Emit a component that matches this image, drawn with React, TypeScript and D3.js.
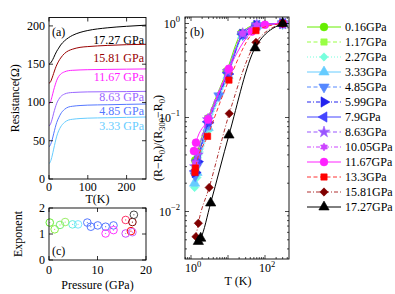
import React from 'react';
import * as d3 from 'd3';

// ---------------- DATA ----------------
// Panel (a): resistance vs temperature
const tA = [0, 4, 8, 12, 16, 20, 25, 30, 40, 50, 60, 80, 100, 150, 200, 250];
const rA1727 = [150, 151.5, 154.5, 158.5, 163, 167, 171, 175, 180.5, 184.5, 187.5, 191.5, 194, 197.5, 199.5, 201];
const rA1581 = [125, 127, 132, 138, 144, 149, 154, 158, 164, 167.5, 169.5, 172, 173, 174.5, 175.5, 176];
const rA1167 = [98, 101, 108, 116, 123, 129, 134, 137, 140, 141.5, 142, 142.5, 142.8, 143.2, 143.5, 143.8];
const rA863 = [69, 72, 78, 86, 93, 99, 104, 107.5, 111, 112.5, 113, 113.5, 113.8, 114, 114.2, 114.5];
const rA485 = [42, 45, 51, 59, 67, 74, 80, 85, 91, 94, 95, 96, 96.5, 97, 97.5, 98];
const rA333 = [20, 23, 30, 39, 48, 56, 63, 68, 74, 77, 78, 79, 79.5, 80, 80.5, 81];
const aSeries = [rA1727, rA1581, rA1167, rA863, rA485, rA333];
const aLabels = ['17.27 GPa', '15.81 GPa', '11.67 GPa', '8.63 GPa', '4.85 GPa', '3.33 GPa'];
const aColors = ['#000000', '#990000', '#FF22FF', '#9966FF', '#5577FF', '#66CCFF'];
const aLabelR = [176.5, 153.5, 127.5, 101.5, 83.5, 64.5]; // label baselines in data units
const aXTicks = [0, 100, 200];
const aYTicks = [0, 50, 100, 150, 200];

// Panel (b): normalized resistance, log-log
const bNames = ['0.16GPa', '1.17GPa', '2.27GPa', '3.33GPa', '4.85GPa', '5.99GPa', '7.9GPa', '8.63GPa', '10.05GPa', '11.67GPa', '13.3GPa', '15.81GPa', '17.27GPa'];
const bT = [
  [1.3, 1.5, 2.9, 9.2, 23, 55, 300],
  [1.3, 1.5, 2.9, 9.5, 24, 55, 300],
  [1.25, 1.45, 2.9, 10, 25, 60, 300],
  [1.25, 1.45, 2.9, 10, 25, 60, 300],
  [1.3, 1.5, 2.9, 5.7, 25, 60, 300],
  [1.3, 1.5, 2.9, 10, 25, 60, 300],
  [1.3, 1.5, 2.9, 10, 25, 60, 300],
  [1.3, 1.5, 2.9, 10, 25, 60, 300],
  [1.3, 1.5, 2.9, 10, 25, 60, 300],
  [1.2, 1.36, 2.9, 10.6, 44, 100, 300],
  [1.28, 1.32, 2.8, 10.6, 57, 300],
  [1.36, 1.58, 3.1, 10.8, 57, 300],
  [1.58, 1.83, 3.4, 10.6, 54, 300],
];
const bV = [
  [0.035, 0.043, 0.098, 0.31, 0.79, 0.96, 1],
  [0.03, 0.038, 0.09, 0.3, 0.78, 0.96, 1],
  [0.018, 0.023, 0.072, 0.27, 0.74, 0.95, 1],
  [0.02, 0.026, 0.078, 0.28, 0.75, 0.95, 1],
  [0.024, 0.031, 0.085, 0.17, 0.76, 0.95, 1],
  [0.026, 0.034, 0.088, 0.29, 0.77, 0.96, 1],
  [0.027, 0.035, 0.09, 0.3, 0.77, 0.96, 1],
  [0.03, 0.04, 0.095, 0.31, 0.78, 0.96, 1],
  [0.033, 0.043, 0.1, 0.32, 0.79, 0.96, 1],
  [0.044, 0.054, 0.095, 0.33, 0.82, 0.97, 1],
  [0.026, 0.029, 0.063, 0.25, 0.84, 1],
  [0.0054, 0.0075, 0.018, 0.11, 0.63, 1],
  [0.0048, 0.0052, 0.0123, 0.065, 0.55, 1],
];
const bColors = ['#66EE00', '#99FF44', '#77FFDD', '#66CCFF', '#5588FF', '#2222EE', '#4444FF', '#9955FF', '#CC44FF', '#FF22FF', '#FF0000', '#800000', '#000000'];
const bLineColors = ['#66EE00', '#99FF44', '#77FFDD', '#66CCFF', '#5588FF', '#2222EE', '#4444FF', '#9955FF', '#CC44FF', '#FF22FF', '#FF3333', '#B03030', '#000000'];
const bDash = ['solid', 'dash', 'dot', 'solid', 'dash', 'dashdot', 'solid', 'dash', 'dashdot', 'solid', 'dash', 'dashdot', 'solid'];
const bMarkers = ['circle', 'square', 'diamond', 'triUp', 'triDown', 'triRight', 'triLeft', 'star', 'hexagram', 'circle', 'square', 'diamond', 'triUp'];

// Panel (c): exponent vs pressure
const cP = [0.16, 1.17, 2.27, 3.33, 4.85, 5.99, 7.9, 8.63, 10.05, 11.67, 11.67, 13.3, 13.3, 15.81, 15.81, 16.9, 17.2, 17.5, 17.2];
const cE = [1.44, 1.18, 1.35, 1.46, 1.37, 1.37, 1.44, 1.28, 1.33, 1.28, 1.02, 1.33, 1.15, 1.54, 1.02, 1.11, 1.46, 1.74, 1.07];
const cColors = ['#66EE33', '#88EE44', '#77EE77', '#99EE66', '#66EEDD', '#77E6FF', '#5577FF', '#5577FF', '#5577FF', '#5577FF', '#FF33FF', '#5577FF', '#FF33FF', '#FF3366', '#CC44FF', '#FF0000', '#800000', '#444444', '#CC66FF'];
const cXTicks = [0, 10, 20];
const cYTicks = [0, 1, 2];

// ---------------- LAYOUT ----------------
const W = 395, H = 294;
const FONT = "'Liberation Serif', 'Tinos', 'Times', 'Times New Roman', 'FreeSerif', 'DejaVu Serif', serif";
const FS = 12;
const TS: React.CSSProperties = { fontFamily: FONT };

const xA = d3.scaleLinear().domain([0, 250]).range([49, 146]);
const yA = d3.scaleLinear().domain([0, 211]).range([179, 17.5]);
const xB = d3.scaleLog().domain([Math.pow(10, -6 / 37), Math.pow(10, 98 / 37)]).range([185, 289]);
const yB = d3.scaleLog().domain([Math.pow(10, -235.5 / 94), Math.pow(10, 6.5 / 94)]).range([259, 17]);
const xC = d3.scaleLinear().domain([0, 20]).range([49, 146]);
const yC = d3.scaleLinear().domain([0, 2]).range([260, 208]);

const dashMap: Record<string, string | undefined> = {
  solid: undefined,
  dash: '4,2.5',
  dot: '1,2',
  dashdot: '4,2,1,2',
};

function hexagramPath(r: number) {
  const pts: string[] = [];
  for (let k = 0; k < 12; k++) {
    const a = (k * 30 - 90) * Math.PI / 180;
    const rr = k % 2 === 0 ? r : r * 0.58;
    pts.push(`${(rr * Math.cos(a)).toFixed(2)},${(rr * Math.sin(a)).toFixed(2)}`);
  }
  return 'M' + pts.join('L') + 'Z';
}

function markerPath(type: string): { d: string; rot: number } {
  const sym = (t: d3.SymbolType, s: number) => d3.symbol().type(t).size(s)() as string;
  switch (type) {
    case 'circle': return { d: sym(d3.symbolCircle, 48), rot: 0 };
    case 'square': return { d: sym(d3.symbolSquare, 40), rot: 0 };
    case 'diamond': return { d: sym(d3.symbolDiamond2, 44), rot: 0 };
    case 'triUp': return { d: sym(d3.symbolTriangle, 46), rot: 0 };
    case 'triDown': return { d: sym(d3.symbolTriangle, 46), rot: 180 };
    case 'triRight': return { d: sym(d3.symbolTriangle, 46), rot: 90 };
    case 'triLeft': return { d: sym(d3.symbolTriangle, 46), rot: -90 };
    case 'star': return { d: sym(d3.symbolStar, 40), rot: 0 };
    case 'hexagram': return { d: hexagramPath(4), rot: 0 };
    default: return { d: sym(d3.symbolCircle, 40), rot: 0 };
  }
}

function Marker({ type, x, y, color }: { type: string; x: number; y: number; color: string }) {
  const m = markerPath(type);
  return <path d={m.d} transform={`translate(${x},${y}) rotate(${m.rot})`} fill={color} stroke={color} strokeWidth={0.6} />;
}

const isMajor = (t: number) => Math.abs(Math.log10(t) - Math.round(Math.log10(t))) < 1e-9;

function Frame({ x0, x1, y0, y1 }: { x0: number; x1: number; y0: number; y1: number }) {
  return <rect x={x0} y={y0} width={x1 - x0} height={y1 - y0} fill="none" stroke="#000" strokeWidth={0.9} />;
}

function Sup({ base, exp, x, y, anchor }: { base: string; exp: string; x: number; y: number; anchor: string }) {
  return (
    <text x={x} y={y} textAnchor={anchor} style={TS} fontSize={FS}>
      {base}
      <tspan dy={-5.5} fontSize={8.5}>{exp}</tspan>
    </text>
  );
}

export default function App() {
  const lineA = d3.line<number>().x((_, i) => xA(tA[i])).y((d) => yA(d)).curve(d3.curveMonotoneX);
  const lineB = d3.line<[number, number]>().x((d) => xB(d[0])).y((d) => yB(d[1])).curve(d3.curveMonotoneX);

  const [a0, a1] = xA.range();
  const aTop = yA.range()[1], aBot = yA.range()[0];
  const [b0, b1] = xB.range();
  const bTop = yB.range()[1], bBot = yB.range()[0];
  const [c0, c1] = xC.range();
  const cTop = yC.range()[1], cBot = yC.range()[0];

  const xBTicks = xB.ticks();
  const yBTicks = yB.ticks();

  const legendY0 = 27, legendDy = 15;

  return (
    <svg width={W} height={H} style={{ position: 'absolute', left: 0, top: 0, background: '#fff', fontFamily: FONT }}>
      <defs>
        <clipPath id="clipA"><rect x={a0} y={aTop} width={a1 - a0} height={aBot - aTop} /></clipPath>
        <clipPath id="clipB"><rect x={b0} y={bTop} width={b1 - b0} height={bBot - bTop} /></clipPath>
      </defs>
      <rect x={0} y={0} width={W} height={H} fill="#fff" />

      {/* ---------- Panel (a) ---------- */}
      <g clipPath="url(#clipA)">
        {aSeries.map((s, i) => (
          <path key={i} d={lineA(s) || ''} fill="none" stroke={aColors[i]} strokeWidth={1} />
        ))}
        {aLabels.map((l, i) => (
          <text key={l} x={a1 - 2} y={yA(aLabelR[i])} textAnchor="end" style={TS} fontSize={12} fill={aColors[i]}>{l}</text>
        ))}
      </g>
      {aYTicks.map((t) => (
        <g key={'ay' + t}>
          <line x1={a0} x2={a0 + 4} y1={yA(t)} y2={yA(t)} stroke="#000" strokeWidth={0.8} />
          <line x1={a1} x2={a1 - 4} y1={yA(t)} y2={yA(t)} stroke="#000" strokeWidth={0.8} />
          <text x={45} y={yA(t) + 4} textAnchor="end" style={TS} fontSize={FS}>{t}</text>
        </g>
      ))}
      {aXTicks.map((t) => (
        <g key={'ax' + t}>
          <line x1={xA(t)} x2={xA(t)} y1={aBot} y2={aBot - 4} stroke="#000" strokeWidth={0.8} />
          <line x1={xA(t)} x2={xA(t)} y1={aTop} y2={aTop + 4} stroke="#000" strokeWidth={0.8} />
          <text x={xA(t)} y={191} textAnchor="middle" style={TS} fontSize={FS}>{t}</text>
        </g>
      ))}
      <Frame x0={a0} x1={a1} y0={aTop} y1={aBot} />
      <text x={52} y={36} style={TS} fontSize={FS}>(a)</text>
      <text x={(a0 + a1) / 2} y={203} textAnchor="middle" style={TS} fontSize={FS}>T(K)</text>
      <text transform={`translate(19,${(aTop + aBot) / 2}) rotate(-90)`} textAnchor="middle" style={TS} fontSize={FS}>Resistance(Ω)</text>

      {/* ---------- Panel (b) ---------- */}
      <g clipPath="url(#clipB)">
        {bNames.map((n, i) => {
          const pts = bT[i].map((t, j) => [t, bV[i][j]] as [number, number]);
          return (
            <g key={n}>
              <path d={lineB(pts) || ''} fill="none" stroke={bLineColors[i]} strokeWidth={1} strokeDasharray={dashMap[bDash[i]]} />
              {pts.map((p, j) => (
                <Marker key={j} type={bMarkers[i]} x={xB(p[0])} y={yB(p[1])} color={bColors[i]} />
              ))}
            </g>
          );
        })}
      </g>
      {xBTicks.map((t, i) => {
        const L = isMajor(t) ? 4 : 2;
        return (
          <g key={'bx' + i}>
            <line x1={xB(t)} x2={xB(t)} y1={bBot} y2={bBot - L} stroke="#000" strokeWidth={0.7} />
            <line x1={xB(t)} x2={xB(t)} y1={bTop} y2={bTop + L} stroke="#000" strokeWidth={0.7} />
          </g>
        );
      })}
      {yBTicks.map((t, i) => {
        const L = isMajor(t) ? 4 : 2;
        return (
          <g key={'by' + i}>
            <line x1={b0} x2={b0 + L} y1={yB(t)} y2={yB(t)} stroke="#000" strokeWidth={0.7} />
            <line x1={b1} x2={b1 - L} y1={yB(t)} y2={yB(t)} stroke="#000" strokeWidth={0.7} />
          </g>
        );
      })}
      {yBTicks.filter(isMajor).map((t) => (
        <Sup key={'byl' + t} base="10" exp={String(Math.round(Math.log10(t))).replace('-', '\u2212')} x={180} y={yB(t) + 4} anchor="end" />
      ))}
      {[1, 100].map((t) => (
        <Sup key={'bxl' + t} base="10" exp={String(Math.round(Math.log10(t)))} x={xB(t) - 6} y={272} anchor="start" />
      ))}
      <Frame x0={b0} x1={b1} y0={bTop} y1={bBot} />
      <text x={190} y={36} style={TS} fontSize={FS}>(b)</text>
      <text x={238} y={285} textAnchor="middle" style={TS} fontSize={FS}>T (K)</text>
      <text transform={`translate(162,${(bTop + bBot) / 2}) rotate(-90)`} textAnchor="middle" style={TS} fontSize={FS}>
        (R−R<tspan dy={3} fontSize={8.5}>0</tspan><tspan dy={-3}>)/(R</tspan><tspan dy={3} fontSize={8.5}>300</tspan><tspan dy={-3}>−R</tspan><tspan dy={3} fontSize={8.5}>0</tspan><tspan dy={-3}>)</tspan>
      </text>

      {/* ---------- Legend ---------- */}
      {bNames.map((n, i) => {
        const y = legendY0 + i * legendDy;
        return (
          <g key={'lg' + n}>
            <line x1={307} x2={341} y1={y} y2={y} stroke={bLineColors[i]} strokeWidth={1} strokeDasharray={dashMap[bDash[i]]} />
            <Marker type={bMarkers[i]} x={324} y={y} color={bColors[i]} />
            <text x={345} y={y + 4} style={TS} fontSize={FS}>{n}</text>
          </g>
        );
      })}

      {/* ---------- Panel (c) ---------- */}
      {cP.map((p, i) => (
        <g key={'c' + i}>
          <circle cx={xC(p)} cy={yC(cE[i])} r={3.8} fill="none" stroke={cColors[i]} strokeWidth={1} />
          <circle cx={xC(p)} cy={yC(cE[i])} r={0.6} fill={cColors[i]} />
        </g>
      ))}
      {cYTicks.map((t) => (
        <g key={'cy' + t}>
          <line x1={c0} x2={c0 + 4} y1={yC(t)} y2={yC(t)} stroke="#000" strokeWidth={0.8} />
          <line x1={c1} x2={c1 - 4} y1={yC(t)} y2={yC(t)} stroke="#000" strokeWidth={0.8} />
          <text x={45} y={yC(t) + 4} textAnchor="end" style={TS} fontSize={FS}>{t}</text>
        </g>
      ))}
      {cXTicks.map((t) => (
        <g key={'cx' + t}>
          <line x1={xC(t)} x2={xC(t)} y1={cBot} y2={cBot - 4} stroke="#000" strokeWidth={0.8} />
          <line x1={xC(t)} x2={xC(t)} y1={cTop} y2={cTop + 4} stroke="#000" strokeWidth={0.8} />
          <text x={xC(t)} y={274} textAnchor="middle" style={TS} fontSize={FS}>{t}</text>
        </g>
      ))}
      <Frame x0={c0} x1={c1} y0={cTop} y1={cBot} />
      <text x={52} y={255} style={TS} fontSize={FS}>(c)</text>
      <text x={(c0 + c1) / 2} y={289} textAnchor="middle" style={TS} fontSize={FS}>Pressure (GPa)</text>
      <text transform={`translate(22,${(cTop + cBot) / 2}) rotate(-90)`} textAnchor="middle" style={TS} fontSize={FS}>Exponent</text>
    </svg>
  );
}
